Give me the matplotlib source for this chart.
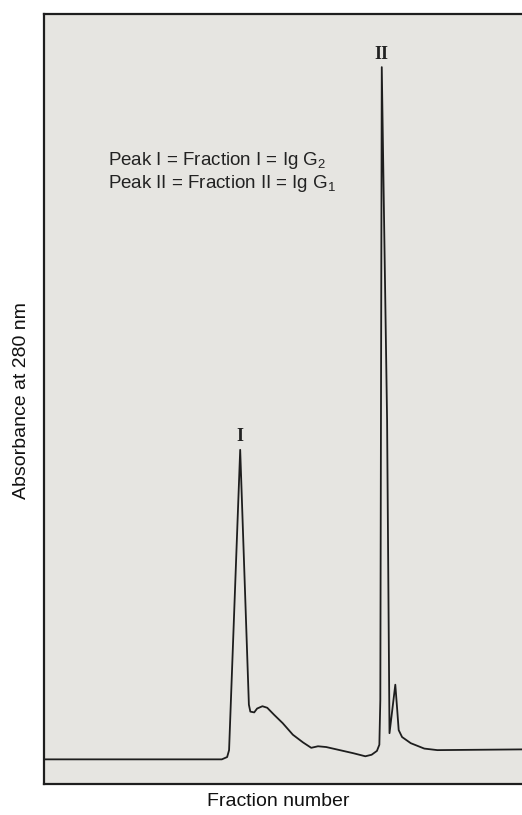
import matplotlib
matplotlib.use("Agg")
import matplotlib.pyplot as plt

plt.rcParams['font.family'] = ['Liberation Sans', 'DejaVu Sans']
plt.rcParams['mathtext.fontset'] = 'custom'
plt.rcParams['mathtext.rm'] = 'Liberation Sans'
plt.rcParams['mathtext.it'] = 'Liberation Sans'

# Elution profile (fraction number vs absorbance, arbitrary units)
fraction = [0.0, 36.8, 37.9, 38.3, 40.6, 42.4, 42.7, 43.5, 44.1, 45.2, 46.2, 47.6,
            49.4, 51.5, 53.6, 55.3, 56.7, 58.4, 61.2, 64.0, 66.5, 67.8, 68.9, 69.4,
            69.6, 69.9, 71.0, 71.5, 72.7, 73.1, 73.4, 74.1, 75.9, 78.7, 81.4, 100.0]
absorbance = [0.032, 0.032, 0.035, 0.044, 0.434, 0.103, 0.094, 0.093, 0.098, 0.101, 0.099, 0.090,
              0.079, 0.064, 0.054, 0.047, 0.049, 0.048, 0.044, 0.040, 0.036, 0.038, 0.043, 0.051,
              0.109, 0.931, 0.473, 0.066, 0.129, 0.096, 0.070, 0.061, 0.053, 0.046, 0.044, 0.045]

peak_labels = ["I", "II"]
peak_x = [40.6, 69.9]
peak_y = [0.451, 0.947]

legend_lines = ["Peak I = Fraction I = Ig G$_\\mathregular{2}$",
                "Peak II = Fraction II = Ig G$_\\mathregular{1}$"]

W, H = 522, 815
fig = plt.figure(figsize=(W / 100, H / 100), dpi=100)
fig.patch.set_facecolor('white')
ax = fig.add_axes([44 / W, 1 - 784 / H, 1 - 44 / W + 0.01, 770 / H])
ax.set_facecolor('#e6e5e1')

ax.plot(fraction, absorbance, color='#1e1e1e', lw=1.3, solid_joinstyle='round')
ax.set_xlim(0, 100)
ax.set_ylim(0, 1)
ax.set_xticks([])
ax.set_yticks([])
for s in ['left', 'top', 'bottom']:
    ax.spines[s].set_linewidth(1.6)
    ax.spines[s].set_color('#1e1e1e')
ax.spines['right'].set_visible(False)

for lab, x, y in zip(peak_labels, peak_x, peak_y):
    ax.text(x, y, lab, ha='center', va='center', fontsize=13,
            family=['Liberation Serif', 'DejaVu Serif'], fontweight='bold', color='#222222')

fig.text(108 / W, 1 - 165 / H, legend_lines[0], ha='left', va='baseline', fontsize=13.5, color='#222222')
fig.text(108 / W, 1 - 188 / H, legend_lines[1], ha='left', va='baseline', fontsize=13.5, color='#222222')

fig.text(278 / W, 1 - 802 / H, "Fraction number", ha='center', va='center', fontsize=14, color='#111111')
fig.text(22 / W, 1 - 401 / H, "Absorbance at 280 nm", ha='center', va='center', rotation=90,
         fontsize=14, color='#111111')

fig.savefig("out.png", dpi=100)
